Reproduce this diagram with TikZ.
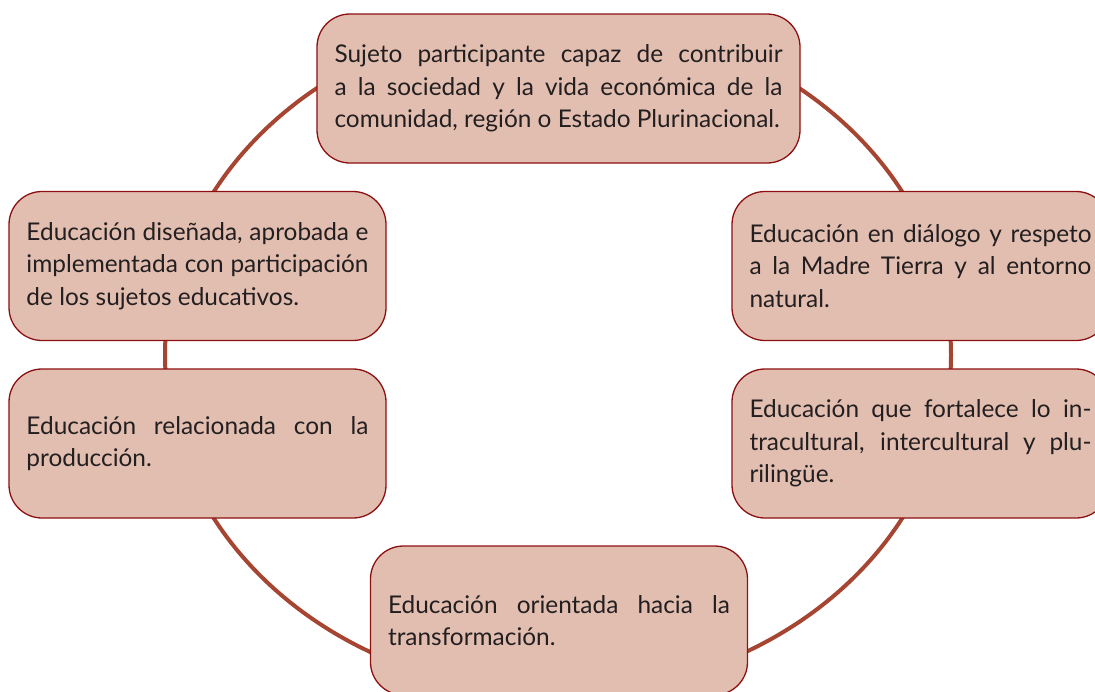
\documentclass[tikz,border=0pt]{standalone}
\usepackage{fontspec}
\setmainfont{Lato}
\usepackage{tikz}
\definecolor{boxfill}{RGB}{226,190,176}
\definecolor{boxdraw}{RGB}{140,16,16}
\definecolor{ringred}{RGB}{166,70,50}
\definecolor{textgray}{RGB}{35,31,32}
\newcommand{\widthbox}{377pt}
\newcommand{\widthtop}{483pt}
\newcommand{\heightbox}{149pt}
\newcommand{\textbox}{342pt}
\newcommand{\texttop}{448pt}
\setlength{\parindent}{0pt}
\tolerance=10000
\hyphenpenalty=10000
\hbadness=10000
\tikzset{
    common/.style={draw=boxdraw, fill=boxfill, line width=1.3pt, rectangle, rounded corners=33pt, minimum height=\heightbox, inner sep=0pt, align=justify, text=textgray, font=\fontsize{24.4}{32.5}\selectfont},
    sidebox/.style={common, minimum width=\widthbox, text width=\textbox},
    topbox/.style={common, minimum width=\widthtop, text width=\texttop},
    ring/.style={ringred, line width=4pt}
}
\begin{document}
\begin{tikzpicture}[x=1pt, y=-1pt]
    \clip (0,0) rectangle (1095,691);
    \draw[ring] (558,355) ellipse [x radius=393pt, y radius=338pt];

    \node[topbox] (sujeto) at (558.5,88.5) {Sujeto participante capaz de contribuir\linebreak a la sociedad y la vida económica de la\linebreak comunidad, región o Estado Plurinacional.};
    \node[sidebox] (disenada) at (197.5,266) {Educación diseñada, aprobada e\linebreak implementada con participación\linebreak de los sujetos educativos.};
    \node[sidebox] (produccion) at (197.5,443.5) {Educación relacionada con la\linebreak producción.};
    \node[sidebox] (madre) at (920.5,266) {Educación en diálogo y respeto\linebreak a la Madre Tierra y al entorno\linebreak natural.};
    \node[sidebox] (intra) at (920.5,443.5) {Educación que fortalece lo in-\linebreak tracultural, intercultural y plu-\linebreak rilingüe.};
    \node[sidebox] (transforma) at (559,620.5) {Educación orientada hacia la\linebreak transformación.};
\end{tikzpicture}
\end{document}
